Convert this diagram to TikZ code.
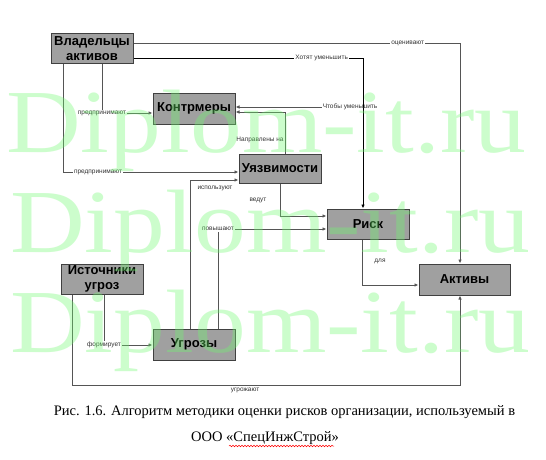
\documentclass[tikz,border=0pt]{standalone}
\usepackage{fontspec}
\setmainfont{Liberation Serif}
\setsansfont{Liberation Sans}
\usetikzlibrary{arrows.meta,decorations.pathmorphing}
\definecolor{boxfill}{RGB}{160,160,160}
\definecolor{boxline}{RGB}{64,64,64}
\definecolor{lnc}{RGB}{85,85,85}
\definecolor{wmark}{RGB}{110,250,110}
\begin{document}
\begin{tikzpicture}[x=1pt,y=-1pt,
  blk/.style={draw=boxline,line width=1pt,fill=boxfill,minimum width=82pt,minimum height=30pt,inner sep=1pt,align=center,font=\sffamily\bfseries\fontsize{13}{15}\selectfont},
  conn/.style={draw=lnc,line width=0.8pt,-{Latex[length=4pt,width=3.5pt]}},
  lbl/.style={font=\sffamily\fontsize{6.5}{7}\selectfont,inner sep=1pt,text=black!80},
  lblw/.style={lbl,fill=white},
  wm/.style={font=\rmfamily\fontsize{90}{90}\selectfont,text=wmark,opacity=0.35,xscale=1.15,anchor=base west,inner sep=0pt}]
\useasboundingbox (0,0) rectangle (546,460);
\fill[white] (0,0) rectangle (546,460);
% boxes
\node[blk] (own) at (92,48.5) {Владельцы\\активов};
\node[blk,minimum height=31pt] (kontr) at (194,108.5) {Контрмеры};
\node[blk,minimum height=29pt] (uyaz) at (280,168.5) {Уязвимости};
\node[blk] (risk) at (368,224) {Риск};
\node[blk,minimum width=91pt,minimum height=31pt] (aktiv) at (464.5,279.5) {Активы};
\node[blk] (ist) at (102,279) {Источники\\угроз};
\node[blk,minimum height=31pt] (ugr) at (194,344.5) {Угрозы};
% connectors
\draw[conn] (own.east |- 0,43) -| (aktiv.north -| 460,0)
  node[lblw,pos=0.42] (l1) {оценивают};
\draw[conn,draw=black] (own.east |- 0,58) -| (risk.north -| 363,0)
  node[lblw,pos=0.41] (l2) {Хотят уменьшить};
\draw[conn] (own.south -| 102,0) |- (kontr.west |- 0,113)
  node[lblw,pos=0.5] (l3) {предпринимают};
\draw[conn] (own.south -| 63,0) |- (uyaz.west |- 0,172)
  node[lblw,pos=0.6] (l4) {предпринимают};
\draw[conn] (uyaz.north -| 285,0) |- (kontr.east |- 0,112);
\node[lbl] (l5) at (260,140) {Направлены на};
\node[lbl] (l6) at (350,107) {Чтобы уменьшить};
\draw[conn] (l6.west) -- (kontr.east |- l6.west);
\draw[conn] (uyaz.south -| 280,0) |- (risk.west |- 0,216);
\node[lbl] (l7) at (258,200) {ведут};
\draw[conn] (ugr.north -| 218,0) |- (risk.west |- 0,229)
  node[lblw,pos=0.5] (l8) {повышают};
\draw[conn] (ugr.north -| 190,0) |- (uyaz.west |- 0,180);
\node[lbl] (l9) at (215,188) {используют};
\draw[conn] (risk.south -| 362,0) |- (aktiv.west |- 0,285);
\node[lbl] (l10) at (380,261) {для};
\draw[conn] (ist.south -| 104,0) |- (ugr.west |- 0,345)
  node[lblw,pos=0.5] (l11) {формирует};
\coordinate (c12) at (460,385);
\draw[conn] (ist.south -| 72,0) |- (c12) -- (aktiv.south -| c12);
\node[lbl] (l12) at (245,390) {угрожают};
% caption
\node[font=\rmfamily\fontsize{14.5}{17}\selectfont,inner sep=0pt] (cap1) at (284.5,412) {Рис. 1.6. Алгоритм методики оценки рисков организации, используемый в};
\node[font=\rmfamily\fontsize{14.5}{17}\selectfont,inner sep=0pt] (cap2) at (265,438) {ООО «СпецИнжСтрой»};
\draw[red,line width=0.5pt,decorate,decoration={snake,amplitude=0.8pt,segment length=3pt}] (229,446) -- (334,446);
% watermark
\node[wm] (w1) at (6,152) {Diplom-it.ru};
\node[wm] (w2) at (10,252) {Diplom-it.ru};
\node[wm] (w3) at (10,352) {Diplom-it.ru};
\end{tikzpicture}
\end{document}
